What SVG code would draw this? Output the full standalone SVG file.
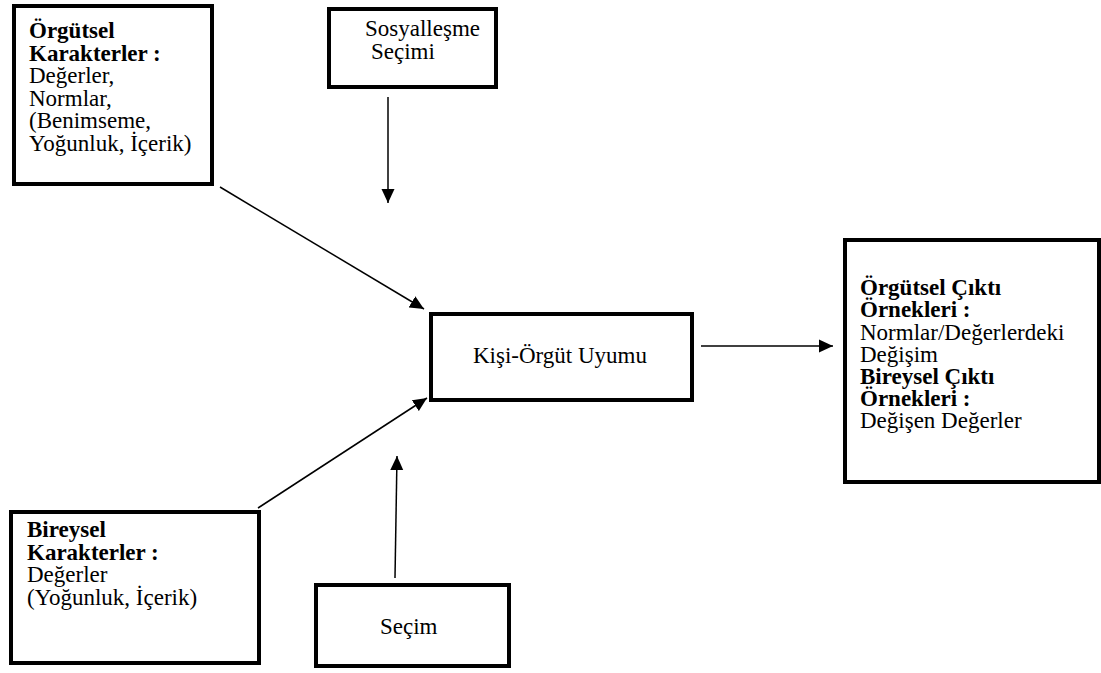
<svg xmlns="http://www.w3.org/2000/svg" width="1101" height="673" viewBox="0 0 1101 673">
  <style>
    .box { fill: #fff; stroke: #000; stroke-width: 4; }
    .t { font-family: "Liberation Serif", "Times New Roman", serif; font-size: 23px; fill: #000; }
    .b { font-weight: bold; }
    .edge { stroke: #000; stroke-width: 1.5; fill: none; marker-end: url(#arrow); }
  </style>
  <defs>
    <marker id="arrow" markerUnits="userSpaceOnUse" markerWidth="14" markerHeight="14" viewBox="0 0 14 14" refX="14" refY="7" orient="auto">
      <path d="M0,0.5 L14,7 L0,13.5 Z" fill="#000"/>
    </marker>
  </defs>

  <rect width="1101" height="673" fill="#fff"/>

  <g id="connectors">
    <line class="edge" x1="388" y1="97" x2="388" y2="203"/>
    <line class="edge" x1="220" y1="187" x2="424" y2="309"/>
    <line class="edge" x1="258" y1="508" x2="427" y2="398"/>
    <line class="edge" x1="395" y1="578" x2="397" y2="456"/>
    <line class="edge" x1="701" y1="346" x2="833" y2="346"/>
  </g>

  <g id="orgutsel-karakterler">
    <rect class="box" x="14" y="6" width="198" height="178"/>
    <text class="t">
      <tspan class="b" x="29" y="38">Örgütsel</tspan>
      <tspan class="b" x="29" y="60.5">Karakterler :</tspan>
      <tspan x="29" y="83">Değerler,</tspan>
      <tspan x="29" y="105.5">Normlar,</tspan>
      <tspan x="29" y="128">(Benimseme,</tspan>
      <tspan x="29" y="150.5">Yoğunluk, İçerik)</tspan>
    </text>
  </g>

  <g id="sosyallesme-secimi">
    <rect class="box" x="329" y="9" width="167" height="78"/>
    <text class="t">
      <tspan x="365" y="36">Sosyalleşme</tspan>
      <tspan x="371" y="58.5">Seçimi</tspan>
    </text>
  </g>

  <g id="kisi-orgut-uyumu">
    <rect class="box" x="431" y="314" width="261" height="86"/>
    <text class="t" x="473" y="363">Kişi-Örgüt Uyumu</text>
  </g>

  <g id="ciktilar">
    <rect class="box" x="845" y="240" width="254" height="242"/>
    <text class="t">
      <tspan class="b" x="860" y="295">Örgütsel Çıktı</tspan>
      <tspan class="b" x="860" y="317">Örnekleri :</tspan>
      <tspan x="860" y="339.5">Normlar/Değerlerdeki</tspan>
      <tspan x="860" y="361.5">Değişim</tspan>
      <tspan class="b" x="860" y="383.5">Bireysel Çıktı</tspan>
      <tspan class="b" x="860" y="405.5">Örnekleri :</tspan>
      <tspan x="860" y="427.5">Değişen Değerler</tspan>
    </text>
  </g>

  <g id="bireysel-karakterler">
    <rect class="box" x="11" y="512" width="248" height="151"/>
    <text class="t">
      <tspan class="b" x="27" y="537">Bireysel</tspan>
      <tspan class="b" x="27" y="559.5">Karakterler :</tspan>
      <tspan x="27" y="582">Değerler</tspan>
      <tspan x="27" y="604.5">(Yoğunluk, İçerik)</tspan>
    </text>
  </g>

  <g id="secim">
    <rect class="box" x="316" y="585" width="193" height="81"/>
    <text class="t" x="380" y="634">Seçim</text>
  </g>
</svg>
